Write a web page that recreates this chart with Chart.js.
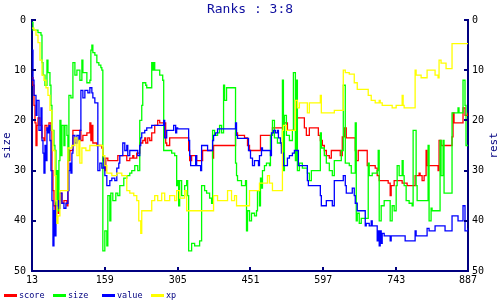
<!DOCTYPE html>
<html><head><meta charset="utf-8">
<script src="https://cdn.jsdelivr.net/npm/chart.js@4.4.1/dist/chart.umd.min.js"></script>
<style>html,body{margin:0;padding:0;background:#fff;}#wrap{width:500px;height:300px;}</style>
</head><body><div id="wrap"><canvas id="c" width="500" height="300"></canvas></div>
<script>
const chartTitle = 'Ranks : 3:8';
const leftTitle = 'size';
const rightTitle = 'rest';
const xTicks = [13, 159, 305, 451, 597, 743, 887];
const yTicks = [0, 10, 20, 30, 40, 50];
const seriesNames = ['score', 'size', 'value', 'xp'];
const seriesColors = ['#ff0000', '#00ff00', '#0000ff', '#ffff00'];

const score = [[13,11.5],[15,13],[17,17],[19,20.5],[21,25],[23,21],[25,19.5],[29,21],[33,23.5],[37,24],[39,21],[43,22],[47,20.5],[51,22],[53,30],[55,34],[57,37],[59,39],[61,36.5],[65,38.5],[67,36],[69,34.5],[73,36.5],[77,36],[83,37],[85,28],[89,26],[95,22],[111,24],[115,23],[123,22.5],[129,20.5],[131,24],[133,21],[135,24.5],[143,25],[153,25.5],[155,28],[159,30],[161,27.5],[165,28],[185,27],[203,28],[209,27.5],[215,27],[217,27.5],[223,26.5],[229,24.5],[235,24],[239,23.5],[241,24.5],[245,23.5],[249,24],[253,22.5],[259,21],[265,20],[269,20.5],[281,24.5],[283,25],[289,23.5],[327,26],[329,28],[333,27],[343,28],[355,26],[375,27.5],[377,25],[421,22.5],[425,23],[439,23.5],[445,25],[449,26],[471,23],[495,21.5],[517,20.5],[525,22],[541,16],[543,19.5],[559,21.5],[563,23],[569,21.5],[587,23],[591,24],[595,25],[599,26],[603,27],[609,27.5],[613,26],[631,27],[635,23.3],[639,21.5],[643,23.5],[661,26],[663,28],[667,26],[685,29],[701,29.5],[705,31],[709,32],[727,32.5],[731,35],[733,33],[739,32],[755,32.5],[765,33],[781,31],[789,30.5],[791,31],[795,32],[799,31],[803,26],[805,29],[827,30],[829,24],[833,25],[855,23.3],[857,18.5],[859,20.5],[877,17.5],[881,19],[887,18.5]];

const size = [[13,0.5],[15,2],[25,2.5],[31,3],[33,8.5],[35,11],[39,13],[43,8],[45,10.5],[49,13],[51,17],[53,22],[57,25],[59,26],[61,37],[63,30],[65,38],[67,28],[69,20],[71,27],[73,21],[77,25],[79,21],[83,23],[85,28],[87,15],[91,15.5],[95,8.5],[99,11],[103,10],[109,12],[113,8],[115,10.5],[123,12.5],[129,12],[131,6],[133,5],[135,6.5],[139,7],[143,8.5],[147,9],[151,9.5],[153,10],[155,46],[159,42],[163,45],[165,35],[169,40],[171,34.5],[175,36],[181,34.5],[185,35],[189,33],[197,31.5],[203,31],[209,30.5],[213,30],[219,29],[225,30],[229,20],[233,17],[235,12.5],[241,13],[243,13.5],[253,8.5],[255,10],[257,8.5],[259,10],[269,11],[275,12],[277,26],[293,26.5],[299,27],[303,33],[305,32],[307,37],[309,32],[313,35],[319,33],[323,32],[325,35],[327,46],[333,44.5],[339,45],[349,44],[353,33],[359,34],[363,34.5],[369,35.5],[373,36.5],[375,22],[379,23],[385,22.5],[389,21],[393,22.5],[397,13],[399,16],[403,13.5],[421,28.5],[423,31],[425,32],[433,33],[441,32],[443,42],[445,38],[449,40],[453,38.5],[459,39],[463,38],[465,34],[469,37],[471,31.5],[473,33.5],[475,30],[479,29],[483,28.5],[489,29],[491,23],[495,20],[499,23.5],[505,24.5],[513,25],[515,12],[517,30],[519,19],[523,23],[529,24],[535,22],[537,10.5],[541,28],[543,12],[545,30],[549,28.5],[555,29.5],[565,30.5],[569,32],[573,30],[591,22.5],[593,25.5],[599,27],[603,28.5],[609,30],[615,31],[619,28],[633,26],[637,13],[641,28.5],[649,29],[653,30.5],[661,20.5],[663,40],[665,38.5],[669,40.5],[673,39.5],[687,28.5],[689,31],[695,30.5],[705,30],[707,26],[709,40],[713,37],[719,36],[731,40],[735,37],[739,38],[743,33],[745,29],[749,31],[755,28],[757,31],[759,33],[763,36],[769,36.5],[775,37],[777,22],[783,33],[785,36],[807,25],[809,40],[813,37.5],[815,38],[831,24],[833,31],[837,24],[839,34.5],[855,18.5],[867,17.5],[869,18.5],[877,12],[881,17],[883,25],[887,25]];

const value = [[13,6],[15,12],[17,15],[21,19],[23,16],[27,22],[31,17.5],[33,24],[35,26.5],[37,30.5],[39,25],[41,28],[43,21.5],[45,22.5],[47,21],[49,24],[51,30],[53,36],[55,45],[57,38],[59,43],[61,37],[65,36],[67,37.5],[69,34.5],[73,36.5],[77,37.5],[81,36.5],[85,34],[87,30],[89,28.5],[91,30.5],[93,26.5],[95,23],[99,24.5],[103,23],[107,24],[109,22],[111,14],[115,15.5],[119,14],[125,14.5],[129,13.5],[133,14.5],[135,15.5],[139,16.5],[145,30],[149,28.5],[153,29.5],[157,27.5],[159,31],[163,33],[169,32],[173,31.5],[179,32],[183,29.5],[187,28.5],[189,27],[195,24.5],[199,26],[203,25],[205,27],[209,26],[225,27],[229,25],[231,23.5],[233,22.5],[239,22],[243,21.5],[253,21],[277,20],[279,23.5],[283,22],[297,21],[301,22.5],[303,21.5],[305,21.7],[327,24],[329,27],[331,29],[341,27],[343,29],[351,30],[353,25],[365,26],[375,24],[377,23],[381,22.5],[385,21.7],[421,20.5],[423,23],[425,23.6],[447,26],[451,27.5],[455,29],[459,28],[467,29],[469,27],[473,25.5],[475,26],[491,27],[493,22.5],[497,22],[501,22.5],[505,22],[507,23.5],[511,24.5],[513,26.5],[517,29],[525,27.5],[529,27],[535,26.5],[539,26],[547,29],[565,32],[567,33],[591,35],[593,37],[603,36],[615,37],[619,32],[637,31],[641,33],[643,34.5],[655,33.5],[659,35],[661,36.5],[665,38],[681,41],[683,40.5],[689,41],[693,40],[695,41],[705,44],[707,42],[709,45],[711,42],[713,44.5],[715,42.5],[719,43],[731,44],[733,43],[761,44],[781,42],[783,43],[805,41.5],[809,42],[821,41],[841,42],[855,39],[867,40],[877,37],[881,42],[887,41.5]];

const xp = [[13,1.6],[17,2],[21,3],[25,4.5],[29,8],[33,11],[37,12],[41,13.5],[45,15],[49,18],[53,22],[55,26],[59,31],[61,36],[63,40.5],[65,39],[69,34],[85,25.5],[93,25],[99,23.5],[103,27],[107,24],[109,28.5],[113,25.5],[121,26],[129,25],[151,25],[155,27],[159,29],[163,30.5],[173,31],[183,30.5],[193,31],[203,34],[209,34.5],[217,35],[223,36],[227,40],[231,42.5],[233,38],[245,38],[253,36],[259,35],[265,36],[273,34.5],[279,36],[289,35],[299,36],[303,34],[309,35.5],[319,34],[323,38],[375,38],[377,35],[385,36],[399,36],[405,34],[413,36],[419,35],[423,37],[439,37],[449,34],[469,32.5],[485,31],[489,32.5],[495,34],[515,22],[517,21],[523,22],[539,22],[541,16],[545,17.5],[549,16.5],[563,16.5],[565,18.5],[569,16.5],[589,16.5],[591,15],[593,18.5],[619,18],[637,10],[641,10.5],[649,10.8],[659,12.5],[665,13.8],[685,13.8],[687,15],[693,16],[701,16.5],[709,16],[711,16.5],[715,17],[729,17],[735,17.5],[743,17],[755,15],[757,17],[759,17.5],[779,17.5],[781,10],[783,11],[793,11.5],[803,11.5],[805,10],[813,10],[821,11],[827,11.5],[829,8],[833,8.6],[843,9.7],[853,9.7],[855,4.7],[887,4.7]];

const seriesData = [score, size, value, xp];
const NAVY = '#000080';
const MONO = '"DejaVu Sans Mono", "Liberation Mono", monospace';

const decor = {
  id: 'decor',
  afterDraw(chart) {
    const ctx = chart.ctx;
    const xs = chart.scales.x, ys = chart.scales.y, ys2 = chart.scales.y2;
    const ca = chart.chartArea;
    ctx.save();
    ctx.strokeStyle = NAVY;
    ctx.lineWidth = 2;
    ctx.beginPath();
    xTicks.forEach(v => { const p = Math.round(xs.getPixelForValue(v)); ctx.moveTo(p, ca.bottom); ctx.lineTo(p, ca.bottom - 4); });
    yTicks.forEach(v => {
      const p = Math.round(ys.getPixelForValue(v));
      ctx.moveTo(ca.left, p); ctx.lineTo(ca.left + 4, p);
      const p2 = Math.round(ys2.getPixelForValue(v));
      ctx.moveTo(ca.right, p2); ctx.lineTo(ca.right - 4, p2);
    });
    ctx.stroke();
    ctx.fillStyle = '#1010a0';
    ctx.font = '13px ' + MONO;
    ctx.textAlign = 'center';
    ctx.textBaseline = 'middle';
    ctx.fillText(chartTitle, 250, 10);
    ctx.fillStyle = NAVY;
    ctx.font = '11px ' + MONO;
    const cy = (ca.top + ca.bottom) / 2;
    [[7, leftTitle], [494, rightTitle]].forEach(([x, t]) => {
      ctx.save(); ctx.translate(x, cy); ctx.rotate(-Math.PI / 2); ctx.fillText(t, 0, 0); ctx.restore();
    });
    ctx.font = '8.5px ' + MONO;
    ctx.textAlign = 'left';
    chart.data.datasets.forEach((ds, i) => {
      const x0 = 4 + i * 49;
      ctx.fillStyle = ds.borderColor;
      ctx.fillRect(x0, 294, 13, 3);
      ctx.fillStyle = NAVY;
      ctx.fillText(ds.label, x0 + 15, 295.5);
    });
    ctx.restore();
  }
};

const tickFont = { family: MONO, size: 10 };
const yScale = (pos, pad) => ({
  type: 'linear', position: pos, reverse: true, min: 0, max: 50,
  afterBuildTicks: s => { s.ticks = yTicks.map(v => ({ value: v })); },
  afterFit: s => { s.width = 32; },
  ticks: { font: tickFont, color: '#000', padding: pad },
  grid: { display: false, drawTicks: false },
  border: { display: true, color: NAVY, width: 2 }
});

new Chart(document.getElementById('c'), {
  type: 'line',
  data: {
    datasets: seriesNames.map((n, i) => ({
      label: n,
      data: seriesData[i].map(([x, y]) => ({ x, y })),
      borderColor: seriesColors[i],
      backgroundColor: seriesColors[i],
      borderWidth: 1.3,
      pointRadius: 0,
      stepped: true,
      fill: false,
      yAxisID: 'y',
      order: 4 - i
    }))
  },
  options: {
    responsive: false,
    animation: false,
    devicePixelRatio: 1,
    layout: { padding: { top: 20, left: 0, right: 0, bottom: 0 } },
    plugins: { legend: { display: false }, title: { display: false }, tooltip: { enabled: false } },
    scales: {
      x: {
        type: 'linear', min: 13, max: 887,
        afterBuildTicks: s => { s.ticks = xTicks.map(v => ({ value: v })); },
        afterFit: s => { s.height = 29; },
        ticks: { font: tickFont, color: '#000', padding: 3, maxRotation: 0, autoSkip: false },
        grid: { display: false, drawTicks: false },
        border: { display: true, color: NAVY, width: 2 }
      },
      y: yScale('left', 6),
      y2: yScale('right', 4)
    }
  },
  plugins: [decor]
});
</script>
</body></html>
